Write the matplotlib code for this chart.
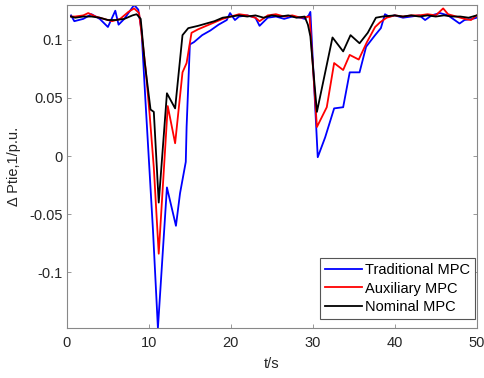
import matplotlib
matplotlib.use("Agg")
import matplotlib.pyplot as plt

plt.rcParams['font.family'] = ['Liberation Sans', 'DejaVu Sans']

# Traditional MPC
t_trad = [0.5, 0.9, 2.0, 3.0, 4.0, 5.0, 5.9, 6.3, 7.0, 7.6, 8.2, 8.7, 9.1, 9.6, 10.5, 11.1,
          12.2, 13.3, 13.8, 14.5, 14.6, 15.0, 15.5, 16.0, 16.5, 17.5, 18.5, 19.5, 19.9, 20.5,
          21.0, 22.0, 23.0, 23.5, 24.5, 25.5, 26.5, 27.5, 28.5, 29.0, 29.5, 29.7, 30.6, 31.5,
          32.6, 33.7, 34.5, 35.7, 36.5, 37.6, 38.3, 38.8, 39.3, 40.0, 41.0, 42.0, 43.0, 43.7,
          44.5, 45.5, 46.5, 47.9, 48.5, 49.5, 50.0]
v_trad = [0.121, 0.116, 0.118, 0.122, 0.118, 0.111, 0.125, 0.113, 0.118, 0.124, 0.130, 0.126,
          0.108, 0.045, -0.064, -0.148,
          -0.027, -0.060, -0.032, -0.005, 0.025, 0.096, 0.098, 0.101, 0.104, 0.108, 0.113, 0.117,
          0.123, 0.117,
          0.120, 0.121, 0.119, 0.112, 0.119, 0.120, 0.118, 0.120, 0.119, 0.118, 0.121, 0.124,
          -0.001, 0.016,
          0.041, 0.042, 0.072, 0.072, 0.094, 0.104, 0.110, 0.122, 0.120, 0.121, 0.119, 0.120,
          0.121, 0.117,
          0.121, 0.123, 0.121, 0.114, 0.117, 0.118, 0.119]

# Auxiliary MPC
t_aux = [0.5, 1.0, 2.0, 2.6, 3.5, 4.5, 5.5, 6.5, 7.5, 8.2, 8.8, 9.2, 9.6, 10.1, 10.6, 11.2,
         12.3, 13.2, 14.1, 14.6, 15.2, 16.0, 17.0, 18.0, 19.0, 20.0, 21.0, 22.0, 23.0, 23.5,
         24.5, 25.5, 26.5, 27.5, 28.5, 29.6, 30.5, 31.7, 32.6, 33.7, 34.5, 35.6, 36.6, 37.6,
         38.2, 39.0, 40.0, 41.0, 42.0, 43.0, 44.0, 45.0, 45.9, 46.5, 47.5, 48.5, 49.3, 50.0]
v_aux = [0.120, 0.120, 0.121, 0.123, 0.120, 0.118, 0.116, 0.118, 0.124, 0.127, 0.123, 0.100,
         0.075, 0.035, -0.010, -0.084,
         0.043, 0.011, 0.072, 0.080, 0.106, 0.109, 0.112, 0.115, 0.118, 0.120, 0.122, 0.121,
         0.119, 0.116,
         0.121, 0.122, 0.120, 0.121, 0.119, 0.120, 0.025, 0.042, 0.080, 0.074, 0.087, 0.083,
         0.098, 0.111,
         0.115, 0.119, 0.121, 0.120, 0.121, 0.121, 0.122, 0.121, 0.127, 0.122, 0.120, 0.118,
         0.117, 0.121]

# Nominal MPC
t_nom = [0.5, 1.0, 2.0, 3.0, 4.0, 5.0, 6.0, 7.0, 8.0, 8.5, 9.0, 9.5, 10.2, 10.6, 11.2,
         12.2, 13.2, 14.1, 14.8, 16.0, 17.0, 18.0, 19.0, 20.0, 21.0, 22.0, 23.0, 24.0, 25.0,
         26.0, 27.0, 28.0, 29.0, 29.4, 29.7, 30.5, 32.4, 33.7, 34.6, 35.7, 36.7, 37.7, 38.5,
         40.0, 41.0, 42.0, 43.0, 44.0, 45.0, 46.0, 47.0, 48.0, 49.0, 50.0]
v_nom = [0.120, 0.119, 0.120, 0.120, 0.119, 0.117, 0.117, 0.118, 0.121, 0.122, 0.118, 0.080,
         0.040, 0.038, -0.040,
         0.054, 0.041, 0.104, 0.110, 0.112, 0.114, 0.116, 0.119, 0.120, 0.121, 0.120, 0.121,
         0.119, 0.121,
         0.120, 0.121, 0.119, 0.120, 0.113, 0.103, 0.038, 0.102, 0.090, 0.104, 0.097, 0.106,
         0.119, 0.120,
         0.121, 0.120, 0.121, 0.120, 0.121, 0.120, 0.121, 0.120, 0.120, 0.119, 0.121]

fig = plt.figure(figsize=(4.85, 3.78), dpi=100)
ax = fig.add_axes([0.138, 0.132, 0.845, 0.855])

ax.plot(t_trad, v_trad, color='#0000ff', lw=1.3, label='Traditional MPC')
ax.plot(t_aux, v_aux, color='#ff0000', lw=1.3, label='Auxiliary MPC')
ax.plot(t_nom, v_nom, color='#000000', lw=1.3, label='Nominal MPC')

ax.set_xlim(0, 50)
ax.set_ylim(-0.148, 0.130)
ax.set_xticks([0, 10, 20, 30, 40, 50])
ax.set_yticks([-0.1, -0.05, 0, 0.05, 0.1])
ax.set_yticklabels(['-0.1', '-0.05', '0', '0.05', '0.1'])
ax.tick_params(direction='in', top=True, right=True, length=3, width=0.6,
               colors='#888888', labelcolor='#262626', labelsize=10.5)
ax.tick_params(axis='x', pad=6)
ax.tick_params(axis='y', pad=3)
for sp in ax.spines.values():
    sp.set_color('#888888')
    sp.set_linewidth(0.8)

ax.set_xlabel('t/s', fontsize=10.5, color='#262626', labelpad=5)
ax.set_ylabel('Δ Ptie,1/p.u.', fontsize=10.5, color='#262626', labelpad=6)

leg = ax.legend(loc='lower right', bbox_to_anchor=(0.995, 0.028), fontsize=10.5,
                handlelength=2.5, handletextpad=0.2, labelspacing=0.3, borderpad=0.35,
                fancybox=False, framealpha=1, borderaxespad=0)
leg.get_frame().set_edgecolor('#555555')
leg.get_frame().set_linewidth(0.8)

fig.savefig('out.png', dpi=100)
